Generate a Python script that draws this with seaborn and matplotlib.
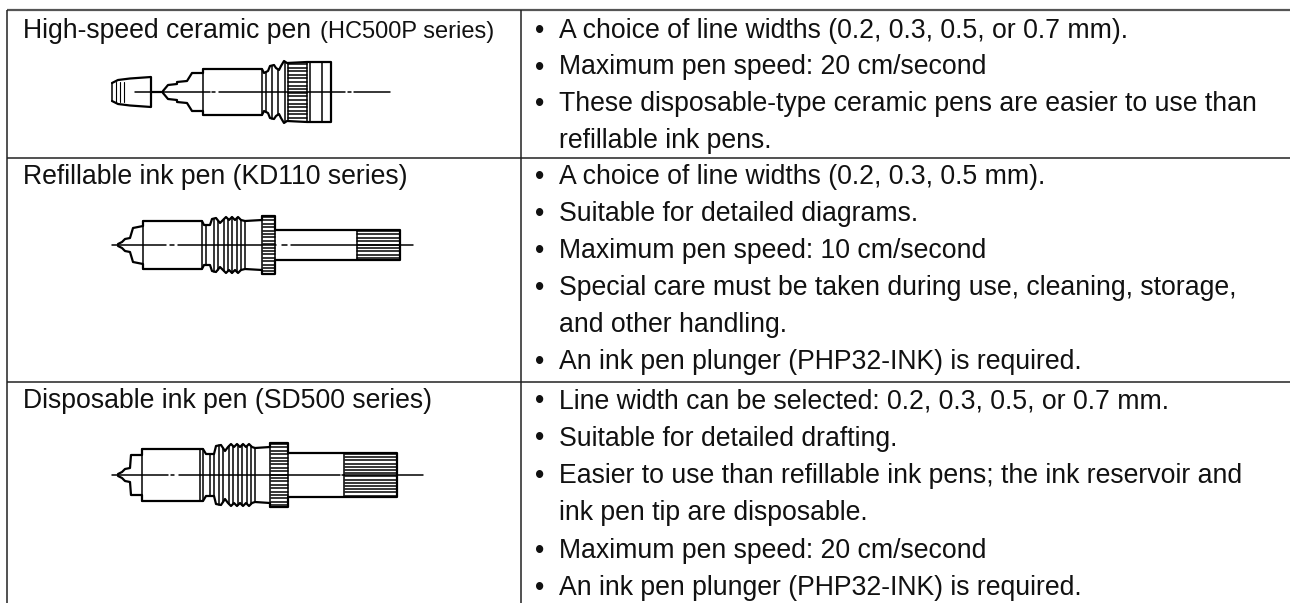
# -*- coding: utf-8 -*-
"""
Pen types table, drawn on a pixel sized axes with seaborn lines.
"""

# %% Import packages

import numpy as np
import pandas as pd
import matplotlib
matplotlib.use('Agg')
import matplotlib.pyplot as plt
import seaborn as sns

# %% Table contents

penNames = ['High-speed ceramic pen ', 'Refillable ink pen (KD110 series)',
            'Disposable ink pen (SD500 series)']
penSeriesSmall = '(HC500P series)'

rowOneText = [('•', 'A choice of line widths (0.2, 0.3, 0.5, or 0.7 mm).'),
              ('•', 'Maximum pen speed: 20 cm/second'),
              ('•', 'These disposable-type ceramic pens are easier to use than'),
              ('', 'refillable ink pens.')]
rowTwoText = [('•', 'A choice of line widths (0.2, 0.3, 0.5 mm).'),
              ('•', 'Suitable for detailed diagrams.'),
              ('•', 'Maximum pen speed: 10 cm/second'),
              ('•', 'Special care must be taken during use, cleaning, storage,'),
              ('', 'and other handling.'),
              ('•', 'An ink pen plunger (PHP32-INK) is required.')]
rowThreeText = [('•', 'Line width can be selected: 0.2, 0.3, 0.5, or 0.7 mm.'),
                ('•', 'Suitable for detailed drafting.'),
                ('•', 'Easier to use than refillable ink pens; the ink reservoir and'),
                ('', 'ink pen tip are disposable.'),
                ('•', 'Maximum pen speed: 20 cm/second'),
                ('•', 'An ink pen plunger (PHP32-INK) is required.')]

rowBaselines = [[38, 74.5, 111, 147.5],
                [184, 221, 258, 295, 332, 369],
                [408, 445.5, 483, 520.5, 558, 595]]

# %% Pen outlines, (x, half height)

penOneCentre = 92
penOneCapX = [112, 118, 130, 151, 151]
penOneCapH = [9, 12, 13.5, 15, 0]
penOneX = [163, 168, 177, 177, 187, 192, 203, 203, 262, 264, 268, 270, 274, 276, 279, 281, 284, 287, 307, 331, 331]
penOneH = [1, 7, 8, 10, 11, 19, 19, 23, 23, 19, 21, 26, 27, 24, 22, 26, 31, 29, 30, 30, 0]
penOneTicks = [203, 262, 266, 272, 278, 285, 288, 307, 310, 322]
penOneCentreLines = [[135, 210], [212, 215], [219, 345], [348, 351], [354, 390]]

penTwoCentre = 245
penTwoX = [118, 122, 125, 130, 133, 143, 143, 202, 204, 210, 212, 216, 220, 223, 226, 229, 232, 235, 238, 241, 245, 262, 262, 275, 275, 357, 400, 400]
penTwoH = [1, 3, 6, 7, 17, 19, 24, 24, 20, 20, 26, 27, 22, 25, 28, 25, 28, 25, 28, 25, 24, 25, 29, 29, 15, 15, 15, 0]
penTwoTicks = [143, 202, 206, 214, 218, 224, 228, 232, 237, 241, 245, 262, 275, 357]
penTwoCentreLines = [[112, 166], [170, 174], [178, 276], [282, 287], [291, 400], [400, 413]]

penThreeCentre = 475
penThreeX = [118, 122, 125, 130, 131, 142, 142, 203, 206, 214, 216, 221, 225, 228, 231, 234, 237, 240, 243, 246, 249, 252, 255, 270, 270, 288, 288, 344, 397, 397]
penThreeH = [1, 3, 6, 7, 20, 20, 26, 26, 21, 21, 29, 30, 24, 28, 31, 28, 31, 28, 31, 28, 31, 28, 27, 28, 32, 32, 22, 22, 22, 0]
penThreeTicks = [142, 200, 203, 210, 214, 219, 223, 229, 233, 238, 242, 247, 251, 255, 270, 288, 344]
penThreeCentreLines = [[112, 168], [171, 174], [179, 340], [342, 344], [344, 397], [397, 423]]

# hatch bands (x0, x1, half height, spacing)
penOneBands = [(288, 307, 28, 3.6)]
penTwoBands = [(263, 275, 28, 3.4), (357, 400, 14, 3.4)]
penThreeBands = [(271, 288, 31, 3.4), (345, 397, 21, 3.2)]

# %% Set-up

sns.set_theme(style = 'white', rc = {'axes.linewidth': 0})
plt.rcParams['font.family'] = ['Liberation Sans', 'DejaVu Sans']

fig = plt.figure(figsize = (12.9, 6.03), dpi = 100)
ax = fig.add_axes([0, 0, 1, 1])

#Work in image pixels
ax.set_xlim([0, 1290])
ax.set_ylim([603, 0])
ax.axis('off')

# %% Collect the strokes by width

strokes = {0.8: [], 1.1: [], 1.6: []}

def addStroke(xVals, yVals, width):
    strokes[width].append(pd.DataFrame({'x': xVals, 'y': yVals,
                                        'part': len(strokes[width])}))

def addPen(cy, xVals, hVals, ticks, centreLines, bands):
    xVals = np.array(xVals, dtype = float)
    hVals = np.array(hVals, dtype = float)
    #Mirror the profile around the centre line
    addStroke(xVals, cy - hVals, 1.6)
    addStroke(xVals, cy + hVals, 1.6)
    #Cross lines at the steps of the body
    for tick in ticks:
        tickH = np.interp(tick, xVals, hVals)
        addStroke([tick, tick], [cy - tickH, cy + tickH], 1.1)
    for seg in centreLines:
        addStroke(seg, [cy, cy], 1.1)
    #Knurled bands
    for x0, x1, bandH, step in bands:
        for yOff in np.arange(-bandH, bandH + 0.1, step):
            addStroke([x0, x1], [cy + yOff, cy + yOff], 1.1)

#Small cap in the first row
capX = np.array(penOneCapX, dtype = float)
capH = np.array(penOneCapH, dtype = float)
addStroke(capX, penOneCentre - capH, 1.6)
addStroke(capX, penOneCentre + capH, 1.6)
addStroke([112, 112], [penOneCentre - 9, penOneCentre + 9], 1.1)
for tick in [116, 120, 124]:
    addStroke([tick, tick], [penOneCentre - 10, penOneCentre + 10], 0.8)
addStroke([151, 163], [penOneCentre, penOneCentre], 1.6)

addPen(penOneCentre, penOneX, penOneH, penOneTicks, penOneCentreLines, penOneBands)
addPen(penTwoCentre, penTwoX, penTwoH, penTwoTicks, penTwoCentreLines, penTwoBands)
addPen(penThreeCentre, penThreeX, penThreeH, penThreeTicks, penThreeCentreLines, penThreeBands)

for width, parts in strokes.items():
    if parts:
        sns.lineplot(data = pd.concat(parts, ignore_index = True), x = 'x', y = 'y',
                     units = 'part', estimator = None, sort = False,
                     color = 'black', lw = width, legend = False, ax = ax)
ax.set_xlim([0, 1290])
ax.set_ylim([603, 0])

# %% Table rules

ruleColour = '#222222'
ax.plot([7, 1290], [10, 10], color = '#555555', lw = 1.6, solid_capstyle = 'butt')
for rowLine in [158, 382]:
    ax.plot([7, 1290], [rowLine, rowLine], color = ruleColour, lw = 1.1, solid_capstyle = 'butt')
for colLine in [7, 521]:
    ax.plot([colLine, colLine], [10, 603], color = ruleColour, lw = 1.1, solid_capstyle = 'butt')

# %% Text

textSize = 19.2
textCol = '#111111'

#First column. The series name in the first row is set smaller
ax.text(23, rowBaselines[0][0], penNames[0], fontsize = textSize, color = textCol, va = 'baseline')
ax.text(320, rowBaselines[0][0], penSeriesSmall, fontsize = 17, color = textCol, va = 'baseline')
ax.text(23, rowBaselines[1][0], penNames[1], fontsize = textSize, color = textCol, va = 'baseline')
ax.text(23, rowBaselines[2][0], penNames[2], fontsize = textSize, color = textCol, va = 'baseline')

#Second column
for rowText, baselines in zip([rowOneText, rowTwoText, rowThreeText], rowBaselines):
    for (bullet, line), yVal in zip(rowText, baselines):
        if bullet:
            ax.text(535, yVal, bullet, fontsize = textSize, color = textCol, va = 'baseline')
        ax.text(559, yVal, line, fontsize = textSize, color = textCol, va = 'baseline')

# %% Save

fig.savefig('out.png', dpi = 100, facecolor = 'white')
